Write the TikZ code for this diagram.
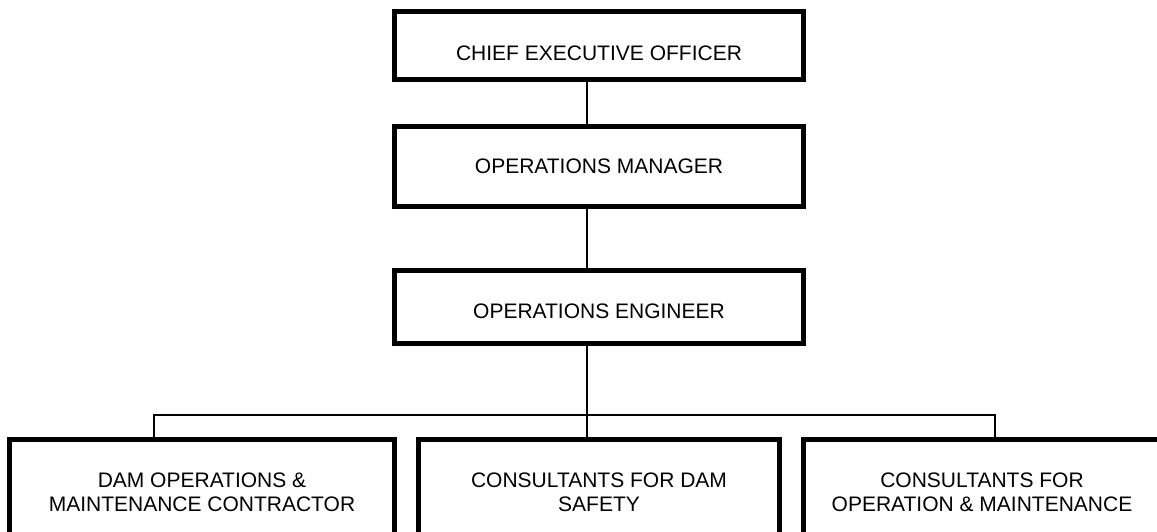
\documentclass[tikz,border=0pt]{standalone}
\usepackage{fontspec}
\setmainfont{Liberation Sans}
\usepackage{tikz}
\usetikzlibrary{positioning}
\definecolor{chartblack}{RGB}{0,0,0}
\tikzset{
  post/.style={draw=chartblack,line width=5pt,minimum width=409pt,
    inner sep=0pt,align=center,font=\fontsize{21}{24}\selectfont},
  unit/.style={post,minimum height=106pt},
  link/.style={draw=chartblack,line width=1.6pt}
}

\begin{document}
\begin{tikzpicture}[x=1pt,y=-1pt,node distance=42pt]
  \useasboundingbox (0,0) rectangle (1157,531);
  % top of the chain
  \node[post,minimum height=68pt,text height=29pt,text depth=0pt] (ceo)
    at (599,45.5) {CHIEF EXECUTIVE OFFICER};
  \node[post,minimum height=80pt,below=of ceo] (om) {OPERATIONS MANAGER};
  \node[post,minimum height=73pt,text height=23pt,text depth=0pt,
    below=59pt of om] (oe) {OPERATIONS ENGINEER};
  % bottom row, cut by the page edge
  \node[unit,minimum width=385pt] (contractor) at (202,492.5)
    {DAM OPERATIONS \&\\MAINTENANCE CONTRACTOR};
  \node[unit,minimum width=361pt] (damsafety) at (599,492.5)
    {CONSULTANTS FOR DAM\\SAFETY};
  \node[unit,minimum width=357pt] (omcons) at (982,492.5)
    {CONSULTANTS FOR\\OPERATION \& MAINTENANCE};
  \coordinate (trunk) at (587,415);
  \coordinate (dropL) at (154,415);
  \coordinate (dropR) at (995,415);
  \draw[link] (ceo.south -| trunk) -- (om.north -| trunk);
  \draw[link] (om.south -| trunk) -- (oe.north -| trunk);
  \draw[link] (oe.south -| trunk) -- (damsafety.north -| trunk);
  \draw[link] (contractor.north -| dropL) -- (dropL) -- (dropR)
    -- (omcons.north -| dropR);
\end{tikzpicture}
\end{document}
